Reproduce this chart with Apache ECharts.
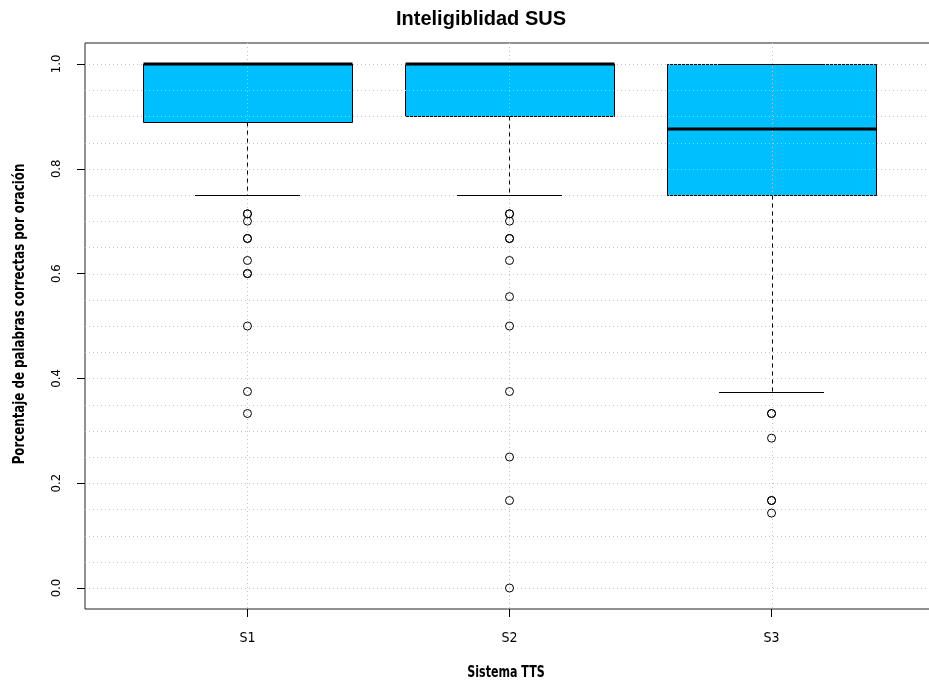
<!DOCTYPE html>
<html><head><meta charset="utf-8">
<script src="https://cdn.jsdelivr.net/npm/echarts@6/dist/echarts.min.js"></script>
<style>html,body{margin:0;padding:0;background:#fff}#c{width:929px;height:684px}</style>
</head><body><div id="c"></div>
<script>
const categories = ['S1', 'S2', 'S3'];
const lowerWhisker = [0.75, 0.75, 0.375];
const q1 = [0.889, 0.9, 0.75];
const median = [1.0, 1.0, 0.875];
const q3 = [1.0, 1.0, 1.0];
const upperWhisker = [1.0, 1.0, 1.0];
const outliersS1 = [0.714, 0.714, 0.7, 0.667, 0.667, 0.625, 0.6, 0.6, 0.5, 0.375, 0.333];
const outliersS2 = [0.714, 0.714, 0.7, 0.667, 0.667, 0.625, 0.556, 0.5, 0.375, 0.25, 0.167, 0.0];
const outliersS3 = [0.333, 0.333, 0.286, 0.167, 0.167, 0.143];
const yTicks = [0, 0.2, 0.4, 0.6, 0.8, 1.0];
const gridLevels = [0, 0.05, 0.1, 0.15, 0.2, 0.25, 0.3, 0.35, 0.4, 0.45, 0.5, 0.55, 0.6, 0.65, 0.7, 0.75, 0.8, 0.85, 0.9, 0.95, 1.0];

const FONT = "'Liberation Sans Narrow', 'DejaVu Sans Condensed', 'Liberation Sans', sans-serif";
const positions = categories.map((c, i) => i + 1);
const boxData = categories.map((c, i) => [positions[i], lowerWhisker[i], q1[i], median[i], q3[i], upperWhisker[i]]);
const outlierData = [];
[outliersS1, outliersS2, outliersS3].forEach((arr, i) => arr.forEach(v => outlierData.push([positions[i], v])));

const chart = echarts.init(document.getElementById('c'), null, {renderer: 'canvas'});
const GRID_COLOR = '#c4c4c4';
const px = v => Math.round(v) + 0.5;

function geom(api) {
  const x = api.value(0);
  const lo = api.value(1), b = api.value(2), m = api.value(3), t = api.value(4), hi = api.value(5);
  const halfBox = 0.4, halfCap = 0.2;
  const tl = api.coord([x - halfBox, t]);
  const br = api.coord([x + halfBox, b]);
  return {
    cx: px(api.coord([x, 0])[0]),
    yb: px(api.coord([x, b])[1]),
    yt: px(api.coord([x, t])[1]),
    ylo: px(api.coord([x, lo])[1]),
    yhi: px(api.coord([x, hi])[1]),
    ym: Math.round(api.coord([x, m])[1]),
    capL: Math.round(api.coord([x - halfCap, lo])[0]),
    capR: Math.round(api.coord([x + halfCap, lo])[0]),
    bx1: px(tl[0]), bx2: px(br[0]), by1: px(tl[1]), by2: px(br[1])
  };
}

chart.setOption({
  animation: false,
  backgroundColor: '#fff',
  title: {
    text: 'Inteligiblidad SUS',
    left: 476, top: 4, textAlign: 'center',
    textStyle: {fontFamily: "'Liberation Sans', Arial, sans-serif", fontWeight: 'bold', fontSize: 20, color: '#000'}
  },
  graphic: [
    {type: 'text', x: 20, y: 314, rotation: Math.PI / 2, scaleX: 0.875,
     style: {text: 'Porcentaje de palabras correctas por oración', fontFamily: FONT, fontWeight: 'bold', fontSize: 15, fill: '#000', align: 'center', verticalAlign: 'middle'}},
    {type: 'text', x: 506, y: 673, scaleX: 0.82,
     style: {text: 'Sistema TTS', fontFamily: FONT, fontWeight: 'bold', fontSize: 15, fill: '#000', align: 'center', verticalAlign: 'middle'}}
  ],
  grid: {left: 85, right: -5, top: 43, bottom: 75, show: true, borderColor: '#222', borderWidth: 1, backgroundColor: 'transparent', containLabel: false, outerBoundsMode: 'none'},
  xAxis: {
    type: 'value', min: 0.38, max: 3.62,
    axisLine: {show: false, onZero: false},
    splitLine: {show: false},
    axisTick: {show: true, length: 8, customValues: positions, lineStyle: {color: '#000'}},
    axisLabel: {customValues: positions, margin: 22, fontFamily: FONT, fontSize: 14, color: '#000',
      formatter: v => categories[Math.round(v) - 1] || ''}
  },
  yAxis: {
    type: 'value', min: -0.04, max: 1.04,
    axisLine: {show: false, onZero: false},
    splitLine: {show: false},
    axisTick: {show: true, length: 8, customValues: yTicks, lineStyle: {color: '#000'}},
    axisLabel: {customValues: yTicks, rotate: 90, margin: 22, fontFamily: FONT, fontSize: 13, color: '#000',
      formatter: v => v.toFixed(1)}
  },
  series: [
    {
      type: 'custom', z: 2,
      data: boxData,
      encode: {x: 0, y: [1, 2, 3, 4, 5]},
      renderItem: function (params, api) {
        const g = geom(api);
        return {type: 'rect', shape: {x: g.bx1, y: g.by1, width: g.bx2 - g.bx1, height: g.by2 - g.by1},
                style: {fill: '#00BFFF', stroke: '#000', lineWidth: 1}};
      }
    },
    {
      type: 'custom', z: 3, silent: true,
      data: gridLevels.map(v => [v]),
      encode: {y: 0},
      renderItem: function (params, api) {
        const cs = params.coordSys;
        const y = px(api.coord([1, api.value(0)])[1]);
        return {type: 'line', shape: {x1: cs.x, y1: y, x2: cs.x + cs.width, y2: y},
                style: {stroke: GRID_COLOR, lineWidth: 1, lineDash: [1, 3]}};
      }
    },
    {
      type: 'custom', z: 3, silent: true,
      data: positions.map(p => [p]),
      encode: {x: 0},
      renderItem: function (params, api) {
        const cs = params.coordSys;
        const x = px(api.coord([api.value(0), 0])[0]);
        return {type: 'line', shape: {x1: x, y1: cs.y, x2: x, y2: cs.y + cs.height},
                style: {stroke: GRID_COLOR, lineWidth: 1, lineDash: [1, 3]}};
      }
    },
    {
      type: 'custom', z: 4,
      data: boxData,
      encode: {x: 0, y: [1, 2, 3, 4, 5]},
      renderItem: function (params, api) {
        const g = geom(api);
        return {
          type: 'group',
          children: [
            {type: 'line', shape: {x1: g.cx, y1: g.yb, x2: g.cx, y2: g.ylo}, style: {stroke: '#000', lineWidth: 1, lineDash: [4, 4]}},
            {type: 'line', shape: {x1: g.capL, y1: g.ylo, x2: g.capR, y2: g.ylo}, style: {stroke: '#000', lineWidth: 1}},
            {type: 'line', shape: {x1: g.cx, y1: g.yt, x2: g.cx, y2: g.yhi}, style: {stroke: '#000', lineWidth: 1, lineDash: [4, 4]}},
            {type: 'line', shape: {x1: g.capL, y1: g.yhi, x2: g.capR, y2: g.yhi}, style: {stroke: '#000', lineWidth: 1}},
            {type: 'line', shape: {x1: g.bx1, y1: g.ym, x2: g.bx2, y2: g.ym}, style: {stroke: '#000', lineWidth: 3}}
          ]
        };
      }
    },
    {
      type: 'scatter', z: 5,
      data: outlierData,
      symbol: 'circle', symbolSize: 8,
      itemStyle: {color: 'rgba(0,0,0,0)', borderColor: '#000', borderWidth: 1, opacity: 1},
      silent: true
    }
  ]
});
</script>
</body></html>
